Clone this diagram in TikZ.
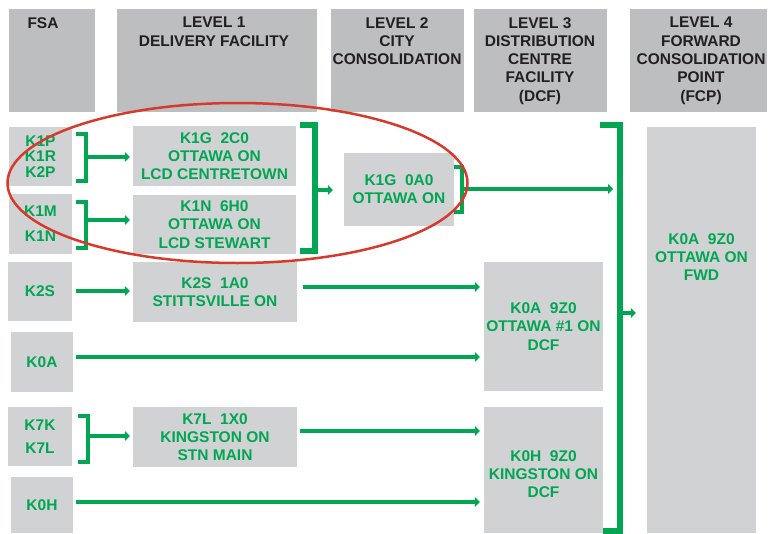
\documentclass[tikz,border=0pt]{standalone}
\usepackage{fontspec}
\setmainfont{Liberation Sans}
\usetikzlibrary{arrows.meta}
\definecolor{pgreen}{HTML}{00A651}
\definecolor{hgray}{HTML}{BCBEC0}
\definecolor{bgray}{HTML}{D1D2D4}
\definecolor{dtext}{HTML}{231F20}
\definecolor{ered}{HTML}{D7392B}
\begin{document}
\begin{tikzpicture}[x=1pt,y=-1pt,
  hbox/.style={fill=hgray, draw=none, inner sep=0},
  bbox/.style={fill=bgray, draw=none, inner sep=0, text=pgreen, align=center,
    font=\fontsize{15.5}{18.3}\selectfont\bfseries},
  htext/.style={text=dtext, align=center, inner sep=0, anchor=north,
    font=\fontsize{15.5}{18.3}\selectfont\bfseries},
  gtext/.style={text=pgreen, align=center, inner sep=0,
    font=\fontsize{15.5}{18.3}\selectfont\bfseries},
  gline/.style={draw=pgreen, line width=4.5pt, line cap=butt, line join=miter},
  gthick/.style={gline, line width=6pt},
  arr/.style={gline, -{Triangle[length=5pt,width=10pt]}},
]
\useasboundingbox (0,0) rectangle (771,533);

% header boxes
\node[hbox, minimum width=86, minimum height=103] (hfsa) at (52,60.5) {};
\node[hbox, minimum width=200, minimum height=103] (hl1) at (217,60.5) {};
\node[hbox, minimum width=133, minimum height=103] (hl2) at (397.5,60.5) {};
\node[hbox, minimum width=133, minimum height=103] (hl3) at (540.5,60.5) {};
\node[hbox, minimum width=137, minimum height=103] (hl4) at (698.5,60.5) {};
\node[htext] (tfsa) at (43,17) {FSA};
\node[htext] (tl1) at (214,17) {LEVEL 1\\DELIVERY FACILITY};
\node[htext] (tl2) at (397,17) {LEVEL 2\\CITY\\CONSOLIDATION};
\node[htext] (tl3) at (540,17) {LEVEL 3\\DISTRIBUTION\\CENTRE\\FACILITY\\(DCF)};
\node[htext] (tl4) at (701,17) {LEVEL 4\\FORWARD\\CONSOLIDATION\\POINT\\(FCP)};

% FSA boxes
\node[bbox, minimum width=63, minimum height=59, font=\fontsize{15.5}{15.5}\selectfont\bfseries] (f1) at (40.5,156.5) {K1P\\K1R\\K2P};
\node[bbox, minimum width=63, minimum height=60, font=\fontsize{15.5}{25}\selectfont\bfseries] (f2) at (40.5,224) {K1M\\K1N};
\node[bbox, minimum width=64, minimum height=59] (f3) at (40,291.5) {K2S};
\node[bbox, minimum width=62, minimum height=60] (f4) at (42,362) {K0A};
\node[bbox, minimum width=64, minimum height=59, font=\fontsize{15.5}{22.6}\selectfont\bfseries] (f5) at (40,436.5) {K7K\\K7L};
\node[bbox, minimum width=62, minimum height=56] (f6) at (42,505) {K0H};

% Level 1
\node[bbox, minimum width=163, minimum height=60] (d1) at (214.5,156) {K1G~~2C0\\OTTAWA ON\\LCD CENTRETOWN};
\node[bbox, minimum width=163, minimum height=59] (d2) at (214.5,224.5) {K1N~~6H0\\OTTAWA ON\\LCD STEWART};
\node[bbox, minimum width=164, minimum height=60] (d3) at (215,292) {K2S~~1A0\\STITTSVILLE ON};
\node[bbox, minimum width=164, minimum height=60] (d4) at (215,437) {K7L~~1X0\\KINGSTON ON\\STN MAIN};

% Level 2
\node[bbox, minimum width=110, minimum height=73] (c1) at (399,189.5) {K1G~~0A0\\OTTAWA ON};

% Level 3
\node[bbox, minimum width=119, minimum height=129] (p1) at (543.5,326.5) {K0A~~9Z0\\OTTAWA \#1 ON\\DCF};
\node[bbox, minimum width=119, minimum height=126] (p2) at (543.5,470) {};
\node[gtext] (p2t) at (543.5,474) {K0H~~9Z0\\KINGSTON ON\\DCF};

% Level 4
\node[bbox, minimum width=109, minimum height=406] (w1) at (701.5,330) {};
\node[gtext] (w1t) at (701.5,257) {K0A~~9Z0\\OTTAWA ON\\FWD};

% brackets
\draw[gline] (76,134) -- (86,134) -- (86,181) -- (76,181);
\coordinate (b1) at (86,157);
\draw[arr, shorten >=3pt] (b1) -- (b1 -| d1.west);

\draw[gline] (76,202) -- (86,202) -- (86,248) -- (76,248);
\coordinate (b2) at (86,220);
\draw[arr, shorten >=3pt] (b2) -- (b2 -| d2.west);

\draw[gline] (78,416) -- (88,416) -- (88,462) -- (78,462);
\coordinate (b3) at (88,436);
\draw[arr, shorten >=3pt] (b3) -- (b3 -| d4.west);

\draw[gthick] (300,125) -- (315,125) -- (315,251) -- (300,251);
\coordinate (b4) at (315,190);
\draw[arr, shorten >=11pt] (b4) -- (b4 -| c1.west);

\draw[gline] (454,167) -- (462,167) -- (462,212) -- (454,212);
\coordinate (b5) at (462,189);
\coordinate (b6top) at (620,125);
\draw[arr] (b5) -- (b5 -| 613,0);

\draw[gthick] (600,125) -- (620,125) -- (620,531) -- (603,531);
\coordinate (b6) at (620,313);
\draw[arr, shorten >=11pt] (b6) -- (b6 -| w1.west);

% straight arrows
\draw[arr, shorten <=4pt, shorten >=3pt] (f3.east |- 0,291) -- (d3.west |- 0,291);
\draw[arr, shorten <=6pt, shorten >=4pt] (d3.east |- 0,287) -- (p1.west |- 0,287);
\draw[arr, shorten <=3pt, shorten >=4pt] (f4.east |- 0,357) -- (p1.west |- 0,357);
\draw[arr, shorten <=3pt, shorten >=4pt] (d4.east |- 0,431) -- (p2.west |- 0,431);
\draw[arr, shorten <=3pt, shorten >=4pt] (f6.east |- 0,502) -- (p2.west |- 0,502);

% red ellipse
\draw[ered, line width=2.5pt] (237.5,183) ellipse [x radius=230, y radius=80];
\end{tikzpicture}
\end{document}
